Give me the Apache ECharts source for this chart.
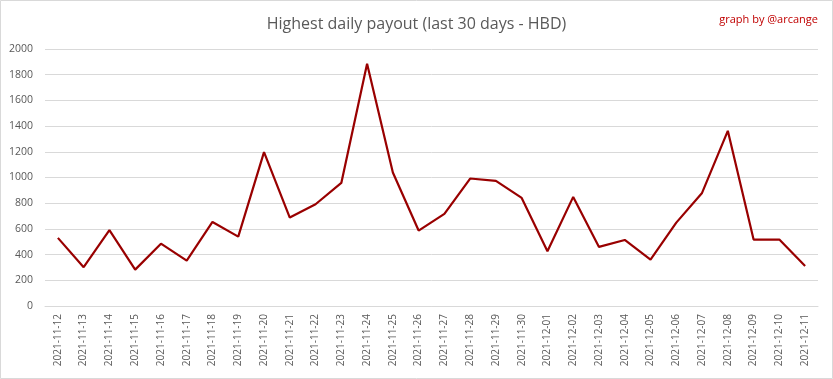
<!DOCTYPE html>
<html>
<head>
<meta charset="utf-8">
<script src="https://cdn.jsdelivr.net/npm/echarts@6/dist/echarts.min.js"></script>
<style>html,body{margin:0;padding:0;background:#fff}#c{width:833px;height:379px}</style>
</head>
<body>
<div id="c"></div>
<script>
const categories = ["2021-11-12","2021-11-13","2021-11-14","2021-11-15","2021-11-16","2021-11-17","2021-11-18","2021-11-19","2021-11-20","2021-11-21","2021-11-22","2021-11-23","2021-11-24","2021-11-25","2021-11-26","2021-11-27","2021-11-28","2021-11-29","2021-11-30","2021-12-01","2021-12-02","2021-12-03","2021-12-04","2021-12-05","2021-12-06","2021-12-07","2021-12-08","2021-12-09","2021-12-10","2021-12-11"];
const payout = [530,302,590,283,485,353,654,540,1197,688,792,958,1885,1039,587,717,992,974,841,426,849,460,514,361,649,880,1363,517,517,312];
const yTicks = [0,200,400,600,800,1000,1200,1400,1600,1800,2000];

const chart = echarts.init(document.getElementById('c'), null, {renderer:'canvas'});
chart.setOption({
  animation:false,
  backgroundColor:'#fff',
  title:[{
    text:'Highest daily payout (last 30 days - HBD)',
    left:'center', top:11,
    textStyle:{fontFamily:'Open Sans', fontSize:16, fontWeight:'normal', color:'#595959'}
  },{
    text:'graph by @arcange',
    right:10, top:9,
    textStyle:{fontFamily:'Open Sans', fontSize:11, fontWeight:'normal', color:'#c00000'}
  }],
  graphic:[{type:'rect', shape:{x:0.5,y:0.5,width:832,height:378}, style:{fill:'none', stroke:'#d9d9d9', lineWidth:1}, silent:true}],
  grid:{left:45, right:15, top:49, bottom:73},
  xAxis:{
    type:'category', data:categories, boundaryGap:true,
    axisLine:{lineStyle:{color:'#d9d9d9'}},
    axisTick:{show:false},
    axisLabel:{rotate:90, interval:0, color:'#595959', fontFamily:'Open Sans', fontSize:10, margin:8}
  },
  yAxis:{
    type:'value', min:0, max:2000, interval:200,
    axisLine:{show:false}, axisTick:{show:false},
    splitLine:{lineStyle:{color:'#d9d9d9'}},
    axisLabel:{color:'#595959', fontFamily:'Open Sans', fontSize:10.5, margin:12,
      customValues: yTicks, formatter: v => String(v)}
  },
  series:[{
    type:'line', data:payout, symbol:'none',
    lineStyle:{color:'#990000', width:2.2}
  }]
});
</script>
</body>
</html>
